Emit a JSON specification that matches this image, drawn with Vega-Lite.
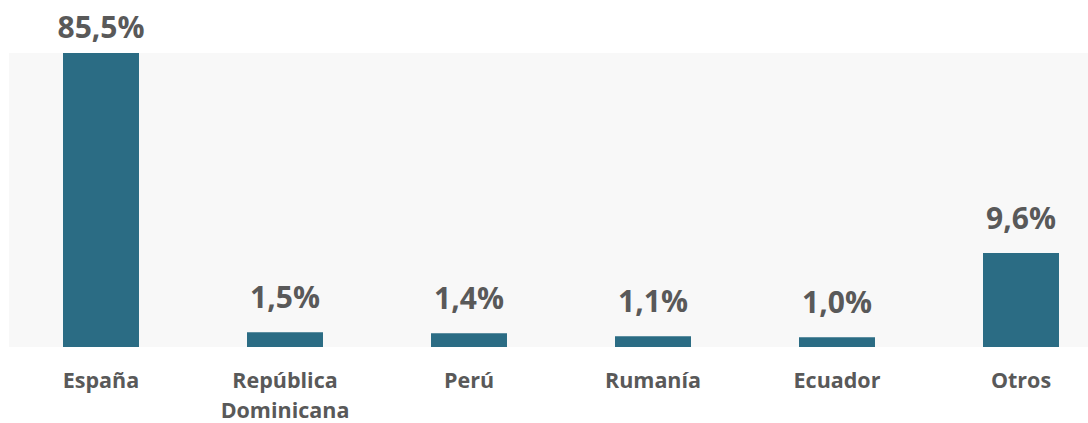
{
  "$schema": "https://vega.github.io/schema/vega-lite/v6.json",
  "width": 1104,
  "height": 294,
  "autosize": {"type": "none"},
  "padding": {"left": 9, "top": 53, "right": 0, "bottom": 76},
  "background": "#ffffff",
  "config": {
    "view": {"stroke": null, "fill": "#F8F8F8"},
    "font": "Open Sans"
  },
  "data": {
    "values": [
      {"pais": "España", "valor": 85.5, "etiqueta": "85,5%"},
      {"pais": "República Dominicana", "valor": 1.5, "etiqueta": "1,5%"},
      {"pais": "Perú", "valor": 1.4, "etiqueta": "1,4%"},
      {"pais": "Rumanía", "valor": 1.1, "etiqueta": "1,1%"},
      {"pais": "Ecuador", "valor": 1.0, "etiqueta": "1,0%"},
      {"pais": "Otros", "valor": 9.6, "etiqueta": "9,6%"}
    ]
  },
  "encoding": {
    "x": {
      "field": "pais",
      "type": "nominal",
      "sort": null,
      "scale": {"paddingInner": 0.587, "paddingOuter": 0.2935},
      "axis": {
        "title": null,
        "domain": false,
        "ticks": false,
        "labelAngle": 0,
        "labelPadding": 23,
        "labelFontSize": 21.5,
        "labelFontWeight": "bold",
        "labelColor": "#595959",
        "labelFont": "Open Sans",
        "labelLineHeight": 30,
        "labelExpr": "split(datum.label, ' ')"
      }
    },
    "y": {
      "field": "valor",
      "type": "quantitative",
      "scale": {"domain": [0, 30], "clamp": true, "nice": false},
      "axis": null
    }
  },
  "layer": [
    {"mark": {"type": "bar", "color": "#2B6C84"}},
    {
      "transform": [{"filter": "datum.valor <= 30"}],
      "mark": {"type": "text", "baseline": "alphabetic", "dy": -24, "fontSize": 30, "fontWeight": "bold", "color": "#595959", "font": "Open Sans"},
      "encoding": {"text": {"field": "etiqueta"}}
    },
    {
      "transform": [{"filter": "datum.valor > 30"}],
      "mark": {"type": "text", "baseline": "alphabetic", "dy": -15, "fontSize": 30, "fontWeight": "bold", "color": "#595959", "font": "Open Sans"},
      "encoding": {"text": {"field": "etiqueta"}}
    }
  ]
}
